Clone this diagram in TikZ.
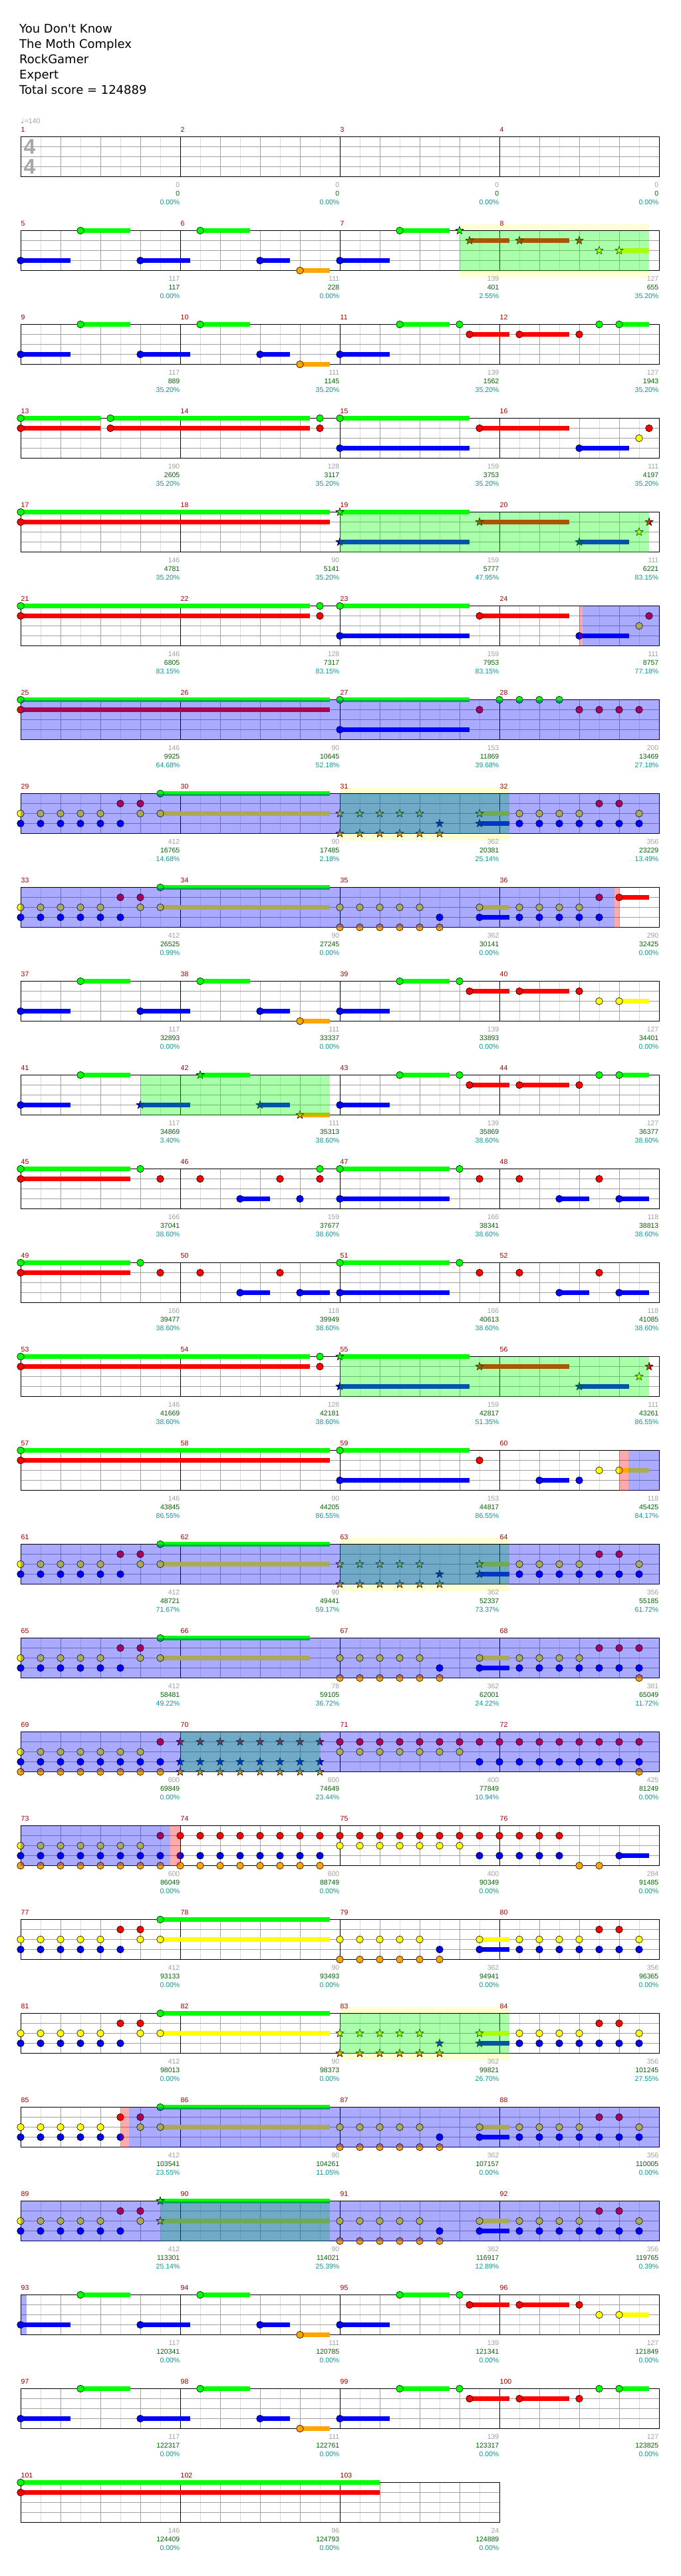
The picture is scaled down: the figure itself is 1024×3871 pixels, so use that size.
\documentclass[tikz,border=0pt]{standalone}
\usepackage{fontspec}
\setmainfont{Liberation Sans}
\newfontfamily\dejavu{DejaVu Sans}
\usepackage{tikz}

\definecolor{lane0}{HTML}{00FF00}
\definecolor{lane1}{HTML}{FF0000}
\definecolor{lane2}{HTML}{FFFF00}
\definecolor{lane3}{HTML}{0000FF}
\definecolor{lane4}{HTML}{FFA500}
\definecolor{mred}{HTML}{990000}
\definecolor{ptgray}{HTML}{A0A0A0}
\definecolor{tsgray}{HTML}{A8A8A8}
\definecolor{totgreen}{HTML}{006400}
\definecolor{pcteal}{HTML}{009999}
\definecolor{gridlight}{HTML}{DCDCDC}
\definecolor{spyellow}{HTML}{FFFFD2}

% gems, holds and stars (x in sixteenths, y in lanes)
\newcommand{\gem}[2]{\filldraw[gem,fill=lane#2] (#1,#2) circle[radius=5.3pt];}
\newcommand{\hold}[3]{\draw[tail,lane#3] (#1,#3) -- (#2,#3); \gem{#1}{#3}}
\newcommand{\sgem}[2]{\filldraw[gem,fill=lane#2] (#1,#2) +(90:6.3pt) -- +(126:2.6pt) -- +(162:6.3pt)
  -- +(198:2.6pt) -- +(234:6.3pt) -- +(270:2.6pt) -- +(306:6.3pt) -- +(342:2.6pt) -- +(18:6.3pt) -- +(54:2.6pt) -- cycle;}
\newcommand{\shold}[3]{\draw[tail,lane#3] (#1,#3) -- (#2,#3); \sgem{#1}{#3}}

% zones
\newcommand{\spzone}[2]{\fill[green,opacity=.333] (#1,0) rectangle (#2,4);}
\newcommand{\odzone}[2]{\fill[blue,opacity=.333] (#1,0) rectangle (#2,4);}
\newcommand{\actzone}[2]{\fill[red,opacity=.333] (#1,0) rectangle (#2,4);}
\newcommand{\spband}[2]{\fill[spyellow] ([yshift=10pt]#1,0) rectangle ([yshift=-10pt]#2,4);}

\newcommand{\staffgrid}[1]{%
  \pgfmathtruncatemacro{\neighth}{4*#1}%
  \pgfmathtruncatemacro{\nbeat}{4*#1-1}%
  \pgfmathtruncatemacro{\nbar}{#1-1}%
  \fill[white] (0,0) rectangle (16*#1,4);
  \foreach \e in {1,...,\neighth} {\draw[eighthline] (4*\e-2,0) -- (4*\e-2,4);}
  \foreach \q in {1,...,\nbeat} {\draw[beatline] (4*\q,0) -- (4*\q,4);}
  \foreach \l in {1,2,3} {\draw[beatline] (0,\l) -- (16*#1,\l);}
  \foreach \m in {1,...,\nbar} {\draw[barline] (16*\m,0) -- (16*\m,4);}
  \draw[barline] (0,0) rectangle (16*#1,4);}

\newcommand{\mlabel}[5]{%
  \node[mnum] (mn#2) at ({16*#1},0) {#2};
  \node[pts] (pt#2) at ({16*#1+16},4) {#3};
  \node[tot] (tt#2) at ({16*#1+16},4) {#4};
  \node[pct] (pc#2) at ({16*#1+16},4) {#5\%};}

% repeated phrases
\newcommand{\introhead}{%
  \hold{0}{5}{3} \hold{6}{11}{0} \hold{12}{17}{3} \hold{18}{23}{0}
  \hold{24}{27}{3} \hold{28}{31}{4}}
\newcommand{\introtail}{%
  \hold{32}{37}{3} \hold{38}{43}{0} \gem{44}{0}
  \hold{45}{49}{1} \hold{50}{55}{1} \gem{56}{1}}
\newcommand{\chorushead}[1]{%
  \foreach \s in {0,2,...,8} {\gem{\s}{2}}
  \foreach \s in {0,2,...,10} {\gem{\s}{3}}
  \gem{10}{1} \gem{12}{1} \gem{12}{2}
  \hold{14}{#1}{2} \hold{14}{#1}{0}}
\newcommand{\chorusmid}{%
  \foreach \s in {32,34,...,40} {\gem{\s}{2}}
  \foreach \s in {32,34,...,42} {\gem{\s}{4}}
  \gem{42}{3} \hold{46}{49}{2} \hold{46}{49}{3}}
\newcommand{\chorusmidsp}{%
  \foreach \s in {32,34,...,40} {\sgem{\s}{2}}
  \foreach \s in {32,34,...,42} {\sgem{\s}{4}}
  \sgem{42}{3} \shold{46}{49}{2} \shold{46}{49}{3}}
\newcommand{\chorustail}{%
  \foreach \s in {50,52,54,56,62} {\gem{\s}{2}}
  \foreach \s in {50,52,...,62} {\gem{\s}{3}}
  \gem{58}{1} \gem{60}{1}}

\begin{document}
\begin{tikzpicture}[
  x=1pt,y=-1pt,
  row/.style={shift={(31pt,{-205.5pt-141pt*#1})},x=15pt,y=-15pt},
  gem/.style={draw=black,line width=0.6pt},
  tail/.style={line width=6.6pt},
  eighthline/.style={draw=gridlight,line width=0.9pt},
  beatline/.style={draw=ptgray,line width=0.9pt},
  barline/.style={draw=black,line width=1pt},
  title/.style={anchor=base west,inner sep=0pt,font=\dejavu\fontsize{18}{20}\selectfont},
  mnum/.style={anchor=base west,inner sep=0pt,yshift=7pt,xshift=0.5pt,text=mred,font=\fontsize{10.5}{12}\selectfont},
  pts/.style={anchor=base east,inner sep=0pt,yshift=-15.5pt,xshift=-0.5pt,text=ptgray,font=\fontsize{10.5}{12}\selectfont},
  tot/.style={pts,yshift=-13.5pt,text=totgreen},
  pct/.style={pts,yshift=-26pt,text=pcteal},
  tsig/.style={inner sep=0pt,text=tsgray,font=\bfseries\fontsize{32}{32}\selectfont}
]
  \useasboundingbox (0,0) rectangle (1024,3871);

  \node[title] (song) at (29,49) {You Don't Know};
  \node[title] (artist) at (29,72) {The Moth Complex};
  \node[title] (charter) at (29,95) {RockGamer};
  \node[title] (level) at (29,118) {Expert};
  \node[title] (total) at (29,141) {Total score = 124889};
  \node[anchor=base west,inner sep=0pt,text=ptgray,font=\fontsize{10.5}{12}\selectfont] (bpm) at (31,185.5) {{\dejavu\fontsize{12}{12}\selectfont ♩}=140};

  % measures 1-4
  \begin{scope}[row=0]
    \staffgrid{4}
    \node[tsig] (tsnum) at (0.9,1) {4};
    \node[tsig] (tsden) at (0.9,3) {4};
    \mlabel{0}{1}{0}{0}{0.00} \mlabel{1}{2}{0}{0}{0.00}
    \mlabel{2}{3}{0}{0}{0.00} \mlabel{3}{4}{0}{0}{0.00}
  \end{scope}

  % measures 5-8
  \begin{scope}[row=1]
    \spband{44}{63}
    \staffgrid{4}
    \introhead
    \hold{32}{37}{3} \hold{38}{43}{0}
    \sgem{44}{0} \shold{45}{49}{1} \shold{50}{55}{1} \sgem{56}{1}
    \sgem{58}{2} \shold{60}{63}{2}
    \spzone{44}{63}
    \mlabel{0}{5}{117}{117}{0.00} \mlabel{1}{6}{111}{228}{0.00}
    \mlabel{2}{7}{139}{401}{2.55} \mlabel{3}{8}{127}{655}{35.20}
  \end{scope}

  % measures 9-12
  \begin{scope}[row=2]
    \staffgrid{4}
    \introhead \introtail
    \gem{58}{0} \hold{60}{63}{0}
    \mlabel{0}{9}{117}{889}{35.20} \mlabel{1}{10}{111}{1145}{35.20}
    \mlabel{2}{11}{139}{1562}{35.20} \mlabel{3}{12}{127}{1943}{35.20}
  \end{scope}

  % measures 13-16
  \begin{scope}[row=3]
    \staffgrid{4}
    \hold{0}{8}{0} \hold{9}{29}{0} \gem{30}{0} \hold{32}{45}{0}
    \hold{0}{8}{1} \hold{9}{29}{1} \gem{30}{1} \hold{46}{55}{1} \gem{63}{1}
    \hold{32}{45}{3} \hold{56}{61}{3} \gem{62}{2}
    \mlabel{0}{13}{190}{2605}{35.20} \mlabel{1}{14}{128}{3117}{35.20}
    \mlabel{2}{15}{159}{3753}{35.20} \mlabel{3}{16}{111}{4197}{35.20}
  \end{scope}

  % measures 17-20
  \begin{scope}[row=4]
    \staffgrid{4}
    \hold{0}{31}{0} \hold{0}{31}{1}
    \shold{32}{45}{0} \shold{32}{45}{3} \shold{46}{55}{1} \shold{56}{61}{3}
    \sgem{62}{2} \sgem{63}{1}
    \spzone{32}{63}
    \mlabel{0}{17}{146}{4781}{35.20} \mlabel{1}{18}{90}{5141}{35.20}
    \mlabel{2}{19}{159}{5777}{47.95} \mlabel{3}{20}{111}{6221}{83.15}
  \end{scope}

  % measures 21-24
  \begin{scope}[row=5]
    \staffgrid{4}
    \hold{0}{29}{0} \gem{30}{0} \hold{0}{29}{1} \gem{30}{1}
    \hold{32}{45}{0} \hold{32}{45}{3} \hold{46}{55}{1} \hold{56}{61}{3}
    \gem{62}{2} \gem{63}{1}
    \actzone{56}{56.3} \odzone{56.3}{64}
    \mlabel{0}{21}{146}{6805}{83.15} \mlabel{1}{22}{128}{7317}{83.15}
    \mlabel{2}{23}{159}{7953}{83.15} \mlabel{3}{24}{111}{8757}{77.18}
  \end{scope}

  % measures 25-28
  \begin{scope}[row=6]
    \staffgrid{4}
    \hold{0}{31}{0} \hold{0}{31}{1} \hold{32}{45}{0} \hold{32}{45}{3}
    \gem{46}{1}
    \foreach \s in {48,50,52,54} {\gem{\s}{0}}
    \foreach \s in {56,58,60,62} {\gem{\s}{1}}
    \odzone{0}{64}
    \mlabel{0}{25}{146}{9925}{64.68} \mlabel{1}{26}{90}{10645}{52.18}
    \mlabel{2}{27}{153}{11869}{39.68} \mlabel{3}{28}{200}{13469}{27.18}
  \end{scope}

  % measures 29-32
  \begin{scope}[row=7]
    \spband{32}{49}
    \staffgrid{4}
    \chorushead{31} \chorusmidsp \chorustail
    \spzone{32}{49} \odzone{0}{64}
    \mlabel{0}{29}{412}{16765}{14.68} \mlabel{1}{30}{90}{17485}{2.18}
    \mlabel{2}{31}{362}{20381}{25.14} \mlabel{3}{32}{356}{23229}{13.49}
  \end{scope}

  % measures 33-36
  \begin{scope}[row=8]
    \staffgrid{4}
    \chorushead{31} \chorusmid
    \foreach \s in {50,52,54,56} {\gem{\s}{2}}
    \foreach \s in {50,52,...,58} {\gem{\s}{3}}
    \gem{58}{1} \hold{60}{63}{1}
    \odzone{0}{59.56} \actzone{59.56}{60}
    \mlabel{0}{33}{412}{26525}{0.99} \mlabel{1}{34}{90}{27245}{0.00}
    \mlabel{2}{35}{362}{30141}{0.00} \mlabel{3}{36}{290}{32425}{0.00}
  \end{scope}

  % measures 37-40
  \begin{scope}[row=9]
    \staffgrid{4}
    \introhead \introtail
    \gem{58}{2} \hold{60}{63}{2}
    \mlabel{0}{37}{117}{32893}{0.00} \mlabel{1}{38}{111}{33337}{0.00}
    \mlabel{2}{39}{139}{33893}{0.00} \mlabel{3}{40}{127}{34401}{0.00}
  \end{scope}

  % measures 41-44
  \begin{scope}[row=10]
    \staffgrid{4}
    \hold{0}{5}{3} \hold{6}{11}{0} \shold{12}{17}{3} \shold{18}{23}{0}
    \shold{24}{27}{3} \shold{28}{31}{4}
    \introtail
    \gem{58}{0} \hold{60}{63}{0}
    \spzone{12}{31}
    \mlabel{0}{41}{117}{34869}{3.40} \mlabel{1}{42}{111}{35313}{38.60}
    \mlabel{2}{43}{139}{35869}{38.60} \mlabel{3}{44}{127}{36377}{38.60}
  \end{scope}

  % measures 45-48
  \begin{scope}[row=11]
    \staffgrid{4}
    \hold{0}{11}{0} \gem{12}{0} \gem{30}{0} \hold{32}{43}{0} \gem{44}{0}
    \hold{0}{11}{1}
    \foreach \s in {14,18,26,30,46,50,58} {\gem{\s}{1}}
    \hold{22}{25}{3} \gem{28}{3} \hold{32}{43}{3} \hold{54}{57}{3} \hold{60}{63}{3}
    \mlabel{0}{45}{166}{37041}{38.60} \mlabel{1}{46}{159}{37677}{38.60}
    \mlabel{2}{47}{166}{38341}{38.60} \mlabel{3}{48}{118}{38813}{38.60}
  \end{scope}

  % measures 49-52
  \begin{scope}[row=12]
    \staffgrid{4}
    \hold{0}{11}{0} \gem{12}{0} \hold{32}{43}{0} \gem{44}{0}
    \hold{0}{11}{1}
    \foreach \s in {14,18,26,46,50,58} {\gem{\s}{1}}
    \hold{22}{25}{3} \hold{28}{31}{3} \hold{32}{43}{3} \hold{54}{57}{3} \hold{60}{63}{3}
    \mlabel{0}{49}{166}{39477}{38.60} \mlabel{1}{50}{118}{39949}{38.60}
    \mlabel{2}{51}{166}{40613}{38.60} \mlabel{3}{52}{118}{41085}{38.60}
  \end{scope}

  % measures 53-56
  \begin{scope}[row=13]
    \staffgrid{4}
    \hold{0}{29}{0} \gem{30}{0} \hold{0}{29}{1} \gem{30}{1}
    \shold{32}{45}{0} \shold{32}{45}{3} \shold{46}{55}{1} \shold{56}{61}{3}
    \sgem{62}{2} \sgem{63}{1}
    \spzone{32}{63}
    \mlabel{0}{53}{146}{41669}{38.60} \mlabel{1}{54}{128}{42181}{38.60}
    \mlabel{2}{55}{159}{42817}{51.35} \mlabel{3}{56}{111}{43261}{86.55}
  \end{scope}

  % measures 57-60
  \begin{scope}[row=14]
    \staffgrid{4}
    \hold{0}{31}{0} \hold{0}{31}{1} \hold{32}{45}{0} \hold{32}{45}{3}
    \gem{46}{1} \hold{52}{55}{3} \gem{56}{3} \gem{58}{2} \hold{60}{63}{2}
    \actzone{60}{60.9} \odzone{60.9}{64}
    \mlabel{0}{57}{146}{43845}{86.55} \mlabel{1}{58}{90}{44205}{86.55}
    \mlabel{2}{59}{153}{44817}{86.55} \mlabel{3}{60}{118}{45425}{84.17}
  \end{scope}

  % measures 61-64
  \begin{scope}[row=15]
    \spband{32}{49}
    \staffgrid{4}
    \chorushead{31} \chorusmidsp \chorustail
    \spzone{32}{49} \odzone{0}{64}
    \mlabel{0}{61}{412}{48721}{71.67} \mlabel{1}{62}{90}{49441}{59.17}
    \mlabel{2}{63}{362}{52337}{73.37} \mlabel{3}{64}{356}{55185}{61.72}
  \end{scope}

  % measures 65-68
  \begin{scope}[row=16]
    \staffgrid{4}
    \chorushead{29} \chorusmid
    \foreach \s in {50,52,54,56} {\gem{\s}{2}}
    \foreach \s in {50,52,...,62} {\gem{\s}{3}}
    \foreach \s in {58,60,62} {\gem{\s}{1}}
    \gem{62}{4}
    \odzone{0}{64}
    \mlabel{0}{65}{412}{58481}{49.22} \mlabel{1}{66}{78}{59105}{36.72}
    \mlabel{2}{67}{362}{62001}{24.22} \mlabel{3}{68}{381}{65049}{11.72}
  \end{scope}

  % measures 69-72
  \begin{scope}[row=17]
    \staffgrid{4}
    \foreach \s in {0,2,...,12} {\gem{\s}{2}}
    \foreach \s in {0,2,...,14} {\gem{\s}{3} \gem{\s}{4}}
    \gem{14}{1}
    \foreach \s in {16,18,...,30} {\sgem{\s}{1} \sgem{\s}{3} \sgem{\s}{4}}
    \foreach \s in {32,34,...,62} {\gem{\s}{1}}
    \foreach \s in {32,34,...,44} {\gem{\s}{2}}
    \foreach \s in {46,48,...,62} {\gem{\s}{3}}
    \gem{62}{4}
    \spzone{16}{30} \odzone{0}{64}
    \mlabel{0}{69}{600}{69849}{0.00} \mlabel{1}{70}{600}{74649}{23.44}
    \mlabel{2}{71}{400}{77849}{10.94} \mlabel{3}{72}{425}{81249}{0.00}
  \end{scope}

  % measures 73-76
  \begin{scope}[row=18]
    \staffgrid{4}
    \foreach \s in {0,2,...,12} {\gem{\s}{2}}
    \foreach \s in {0,2,...,30} {\gem{\s}{3} \gem{\s}{4}}
    \foreach \s in {14,16,...,54} {\gem{\s}{1}}
    \foreach \s in {32,34,...,44} {\gem{\s}{2}}
    \foreach \s in {46,48,...,54} {\gem{\s}{3}}
    \gem{56}{4} \gem{58}{4} \hold{60}{63}{3}
    \odzone{0}{15} \actzone{15}{16}
    \mlabel{0}{73}{600}{86049}{0.00} \mlabel{1}{74}{600}{88749}{0.00}
    \mlabel{2}{75}{400}{90349}{0.00} \mlabel{3}{76}{284}{91485}{0.00}
  \end{scope}

  % measures 77-80
  \begin{scope}[row=19]
    \staffgrid{4}
    \chorushead{31} \chorusmid \chorustail
    \mlabel{0}{77}{412}{93133}{0.00} \mlabel{1}{78}{90}{93493}{0.00}
    \mlabel{2}{79}{362}{94941}{0.00} \mlabel{3}{80}{356}{96365}{0.00}
  \end{scope}

  % measures 81-84
  \begin{scope}[row=20]
    \spband{32}{49}
    \staffgrid{4}
    \chorushead{31} \chorusmidsp \chorustail
    \spzone{32}{49}
    \mlabel{0}{81}{412}{98013}{0.00} \mlabel{1}{82}{90}{98373}{0.00}
    \mlabel{2}{83}{362}{99821}{26.70} \mlabel{3}{84}{356}{101245}{27.55}
  \end{scope}

  % measures 85-88
  \begin{scope}[row=21]
    \staffgrid{4}
    \chorushead{31} \chorusmid \chorustail
    \actzone{10}{10.84} \odzone{10.84}{64}
    \mlabel{0}{85}{412}{103541}{23.55} \mlabel{1}{86}{90}{104261}{11.05}
    \mlabel{2}{87}{362}{107157}{0.00} \mlabel{3}{88}{356}{110005}{0.00}
  \end{scope}

  % measures 89-92
  \begin{scope}[row=22]
    \staffgrid{4}
    \foreach \s in {0,2,...,8} {\gem{\s}{2}}
    \foreach \s in {0,2,...,10} {\gem{\s}{3}}
    \gem{10}{1} \gem{12}{1} \gem{12}{2}
    \shold{14}{31}{2} \shold{14}{31}{0}
    \chorusmid \chorustail
    \spzone{14}{31} \odzone{0}{64}
    \mlabel{0}{89}{412}{113301}{25.14} \mlabel{1}{90}{90}{114021}{25.39}
    \mlabel{2}{91}{362}{116917}{12.89} \mlabel{3}{92}{356}{119765}{0.39}
  \end{scope}

  % measures 93-96
  \begin{scope}[row=23]
    \staffgrid{4}
    \introhead \introtail
    \gem{58}{2} \hold{60}{63}{2}
    \odzone{0}{0.57}
    \mlabel{0}{93}{117}{120341}{0.00} \mlabel{1}{94}{111}{120785}{0.00}
    \mlabel{2}{95}{139}{121341}{0.00} \mlabel{3}{96}{127}{121849}{0.00}
  \end{scope}

  % measures 97-100
  \begin{scope}[row=24]
    \staffgrid{4}
    \introhead \introtail
    \gem{58}{0} \hold{60}{63}{0}
    \mlabel{0}{97}{117}{122317}{0.00} \mlabel{1}{98}{111}{122761}{0.00}
    \mlabel{2}{99}{139}{123317}{0.00} \mlabel{3}{100}{127}{123825}{0.00}
  \end{scope}

  % measures 101-103
  \begin{scope}[row=25]
    \staffgrid{3}
    \hold{0}{36}{0} \hold{0}{36}{1}
    \mlabel{0}{101}{146}{124409}{0.00} \mlabel{1}{102}{96}{124793}{0.00}
    \mlabel{2}{103}{24}{124889}{0.00}
  \end{scope}
\end{tikzpicture}
\end{document}
